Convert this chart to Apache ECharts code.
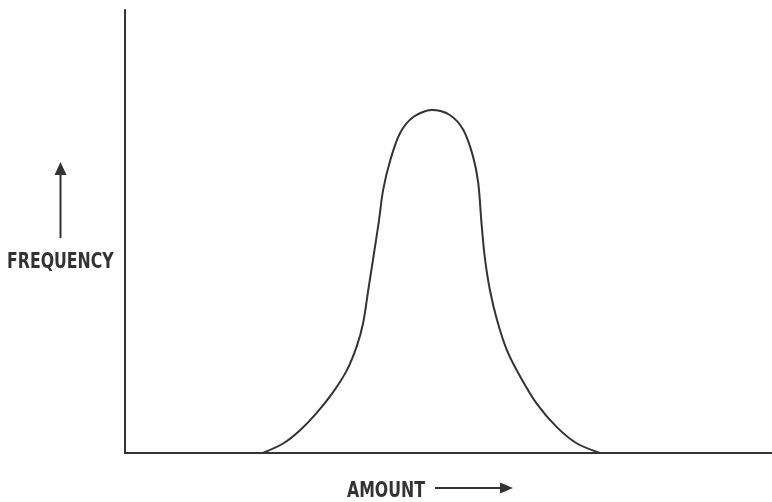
<!DOCTYPE html>
<html>
<head>
<meta charset="utf-8">
<script src="https://cdn.jsdelivr.net/npm/echarts@6/dist/echarts.min.js"></script>
<style>
  html, body { margin: 0; padding: 0; background: #fff; }
  #chart { width: 772px; height: 502px; }
</style>
</head>
<body>
<div id="chart"></div>
<script>
  // amount (0-100) and frequency (0-100)
  var amount = [21.3, 24.5, 27.1, 29.6, 32.2, 34.3, 35.8, 36.8, 37.6, 38.4, 39.2, 39.9,
                41.0, 42.5, 44.6, 47.4, 50.2, 52.3, 53.8, 54.6, 55.1, 55.6, 56.4, 57.5,
                59.0, 61.1, 63.6, 66.7, 69.8, 73.4];
  var frequency = [0, 2.2, 5.2, 9.0, 13.8, 18.7, 24.0, 29.3, 36.8, 44.3, 51.9, 59.4,
                   66.1, 72.2, 75.9, 77.4, 76.3, 72.9, 66.9, 60.9, 51.9, 44.3, 36.8, 30.0,
                   23.3, 17.2, 11.2, 5.9, 2.2, 0];
  var xLabel = 'AMOUNT';
  var yLabel = 'FREQUENCY';

  var ink = '#333';
  var font = 'bold 17.5px "Liberation Sans Narrow", "DejaVu Sans Condensed", sans-serif';

  var chart = echarts.init(document.getElementById('chart'));

  var points = amount.map(function (a, i) { return [a, frequency[i]]; });

  chart.setOption({
    animation: false,
    backgroundColor: '#fff',
    grid: { left: 125, right: 0, top: 10, bottom: 49 },
    xAxis: {
      type: 'value', min: 0, max: 100,
      axisLine: { lineStyle: { color: ink, width: 2 } },
      axisTick: { show: false }, axisLabel: { show: false }, splitLine: { show: false }
    },
    yAxis: {
      type: 'value', min: 0, max: 100,
      axisLine: { show: true, lineStyle: { color: ink, width: 2 } },
      axisTick: { show: false }, axisLabel: { show: false }, splitLine: { show: false }
    },
    series: [{
      type: 'line',
      data: points,
      smooth: 0.3,
      showSymbol: false,
      lineStyle: { color: ink, width: 2 }
    }],
    graphic: [
      // y label + up arrow
      {
        type: 'text', x: 7, y: 262, scaleY: 1.22,
        style: { text: yLabel, font: font, fill: ink, textVerticalAlign: 'middle' }
      },
      {
        type: 'line', shape: { x1: 60.5, y1: 238, x2: 60.5, y2: 172 },
        style: { stroke: ink, lineWidth: 2 }
      },
      {
        type: 'polygon', shape: { points: [[60.5, 162], [54.5, 175], [66.5, 175]] },
        style: { fill: ink }
      },
      // x label + right arrow
      {
        type: 'text', x: 347, y: 491.5, scaleY: 1.22,
        style: { text: xLabel, font: font, fill: ink, textVerticalAlign: 'middle' }
      },
      {
        type: 'line', shape: { x1: 435, y1: 488, x2: 502, y2: 488 },
        style: { stroke: ink, lineWidth: 2 }
      },
      {
        type: 'polygon', shape: { points: [[513, 488], [500, 482.5], [500, 493.5]] },
        style: { fill: ink }
      }
    ]
  });
</script>
</body>
</html>
